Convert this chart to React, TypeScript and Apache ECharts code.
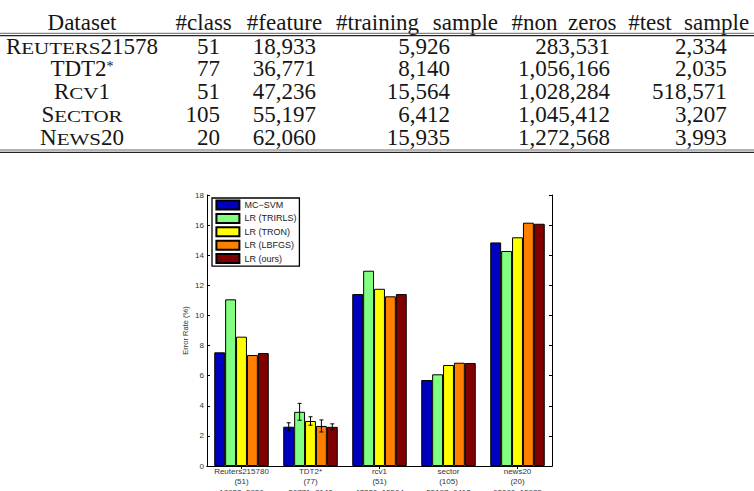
import { useEffect, useRef } from "react";
import * as echarts from "echarts";

// ---- table data ----
const tableHeaders = ["Dataset", "#class", "#feature", "#training sample", "#non zeros", "#test sample"];
const datasetNames = ["Reuters21578", "TDT2*", "Rcv1", "Sector", "News20"];
const classCounts = [51, 77, 51, 105, 20];
const featureCounts = [18933, 36771, 47236, 55197, 62060];
const trainingCounts = [5926, 8140, 15564, 6412, 15935];
const nonZeroCounts = [283531, 1056166, 1028284, 1045412, 1272568];
const testCounts = [2334, 2035, 518571, 3207, 3993];

// ---- chart data ----
const groupNames = ["Reuters215780", "TDT2*", "rcv1", "sector", "news20"];
const groupClasses = ["(51)", "(77)", "(51)", "(105)", "(20)"];
const groupSizes = ["18933, 5926", "36771, 8140", "47236, 15564", "55197, 6412", "62060, 15935"];

const methodNames = ["MC\u2212SVM", "LR (TRIRLS)", "LR (TRON)", "LR (LBFGS)", "LR (ours)"];
const errMcSvm = [7.55, 2.61, 11.42, 5.71, 14.85];
const errTrirls = [11.07, 3.6, 12.97, 6.09, 14.28];
const errTron = [8.59, 2.99, 11.77, 6.71, 15.19];
const errLbfgs = [7.37, 2.66, 11.27, 6.86, 16.16];
const errOurs = [7.5, 2.6, 11.42, 6.84, 16.09];

const stdMcSvm = [0, 0.26, 0, 0, 0];
const stdTrirls = [0, 0.56, 0, 0, 0];
const stdTron = [0, 0.28, 0, 0, 0];
const stdLbfgs = [0, 0.4, 0, 0, 0];
const stdOurs = [0, 0.2, 0, 0, 0];

const yTicks = [0, 18, 2]; // min, max, interval

// ---- styling ----
const SERIF = '"Liberation Serif", "Times New Roman", serif';
const SANS = '"Liberation Sans", Arial, Helvetica, sans-serif';
const INK = "#161616";
const CHART_INK = "#333";
const methodColors = ["#0000BF", "#80FF80", "#FFFF00", "#FF8000", "#800000"];
const CATEGORY_GAP = 0.21;

const BIG = 23;
const SMALL = 17.5;
const SC_STRETCH = 1.2;

let measureCtx: CanvasRenderingContext2D | null = null;
function textWidth(text: string, size: number, family: string) {
  if (!measureCtx) measureCtx = document.createElement("canvas").getContext("2d");
  if (!measureCtx) return text.length * size * 0.5;
  measureCtx.font = `${size}px ${family}`;
  return measureCtx.measureText(text).width;
}

// place a text so its caps are centred on capY
function cellY(capY: number, size: number) {
  const baseline = capY + 0.331 * BIG;
  return baseline - 0.34 * size;
}

function kindOf(ch: string) {
  if (/[a-z]/.test(ch)) return "sc";
  if (ch === "*") return "sup";
  return "big";
}

function serifText(text: string, x: number, y: number, size: number, align: string, scaleX = 1) {
  return {
    type: "text",
    x,
    y,
    scaleX,
    style: { text, fontSize: size, fontFamily: SERIF, fill: INK, align, verticalAlign: "middle" },
  };
}

// dataset name typeset in small caps
function smallCapsName(name: string, cx: number, capY: number) {
  const pieces: { kind: string; text: string }[] = [];
  let i = 0;
  while (i < name.length) {
    const k = kindOf(name[i]);
    let j = i;
    while (j < name.length && kindOf(name[j]) === k) j++;
    pieces.push({ kind: k, text: name.slice(i, j) });
    i = j;
  }
  const children: any[] = [];
  let x = 0;
  for (const p of pieces) {
    const size = p.kind === "big" ? BIG : p.kind === "sc" ? SMALL : 14;
    const txt = p.kind === "sc" ? p.text.toUpperCase() : p.text;
    const sx = p.kind === "sc" ? SC_STRETCH : 1;
    let y = cellY(capY, size);
    if (p.kind === "sup") y -= 6;
    children.push(serifText(txt, x, y, size, "left", sx));
    x += textWidth(txt, size, SERIF) * sx;
  }
  return { type: "group", x: cx - x / 2, y: 0, children };
}

// header words are spread to the column's set width
function headerText(text: string, cx: number, width: number, capY: number) {
  const words = text.split(" ");
  const widths = words.map((w) => textWidth(w, BIG, SERIF));
  const natural = widths.reduce((a, b) => a + b, 0);
  const gap = words.length > 1 ? (width - natural) / (words.length - 1) : 0;
  const total = words.length > 1 ? width : natural;
  const children: any[] = [];
  let x = 0;
  words.forEach((w, i) => {
    children.push(serifText(w, x, cellY(capY, BIG), BIG, "left"));
    x += widths[i] + gap;
  });
  return { type: "group", x: cx - total / 2, y: 0, children };
}

function buildTable() {
  const headerCenters = [82, 203.7, 284.5, 417, 564, 688.7];
  const headerWidths = [70, 57, 77, 162, 105, 121];
  const numberRights = [220, 316, 450, 610, 726.7];
  const headerCapY = 22.5;
  const firstRowCapY = 46.5;
  const rowStep = 22.7;
  const columns = [classCounts, featureCounts, trainingCounts, nonZeroCounts, testCounts];
  const els: any[] = [];

  tableHeaders.forEach((h, c) => {
    els.push(headerText(h, headerCenters[c], headerWidths[c], headerCapY));
  });

  datasetNames.forEach((name, r) => {
    const capY = firstRowCapY + r * rowStep;
    els.push(smallCapsName(name, headerCenters[0], capY));
    columns.forEach((col, c) => {
      els.push(serifText(col[r].toLocaleString("en-US"), numberRights[c], cellY(capY, BIG), BIG, "right"));
    });
  });

  const rule = (y: number, w: number, color: string) => ({
    type: "line",
    shape: { x1: 0, y1: y, x2: 754, y2: y },
    style: { stroke: color, lineWidth: w },
  });
  els.push(rule(33.3, 1, "#666"), rule(35.6, 1.4, "#222"));
  els.push(rule(150, 1, "#666"), rule(152.4, 1.4, "#222"));
  return els;
}

function errorBarSeries(k: number, values: number[], stds: number[]) {
  return {
    type: "custom",
    name: methodNames[k] + " std",
    z: 5,
    data: values.map((v, i) => [i, v, stds[i]]),
    renderItem: (_params: any, api: any) => {
      const i = api.value(0);
      const v = api.value(1);
      const s = api.value(2);
      if (!s) return null;
      const band = api.size([1, 0])[0];
      const bw = (band * (1 - CATEGORY_GAP)) / 5;
      const cx = api.coord([i, 0])[0] + (k - 2) * bw;
      const yTop = api.coord([i, v + s])[1];
      const yBot = api.coord([i, v - s])[1];
      const st = { stroke: "#000", lineWidth: 1 };
      return {
        type: "group",
        children: [
          { type: "line", shape: { x1: cx, y1: yTop, x2: cx, y2: yBot }, style: st },
          { type: "line", shape: { x1: cx - 2, y1: yTop, x2: cx + 2, y2: yTop }, style: st },
          { type: "line", shape: { x1: cx - 2, y1: yBot, x2: cx + 2, y2: yBot }, style: st },
        ],
      };
    },
  };
}

function buildOption() {
  const allValues = [errMcSvm, errTrirls, errTron, errLbfgs, errOurs];
  const allStds = [stdMcSvm, stdTrirls, stdTron, stdLbfgs, stdOurs];
  const axisLine = { show: true, lineStyle: { color: "#000", width: 1 } };
  const tick = { show: true, inside: true, length: 3, lineStyle: { color: "#000", width: 1 } };

  const bars = allValues.map((vals, k) => ({
    type: "bar",
    name: methodNames[k],
    data: vals,
    barGap: "0%",
    barCategoryGap: `${CATEGORY_GAP * 100}%`,
    itemStyle: { color: methodColors[k], borderColor: "#000", borderWidth: 1 },
  }));
  const errs = allValues.map((vals, k) => errorBarSeries(k, vals, allStds[k]));

  return {
    animation: false,
    backgroundColor: "#fff",
    textStyle: { fontFamily: SANS },
    grid: { left: 207, top: 195, width: 345, height: 271, containLabel: false, outerBoundsMode: "none" },
    legend: {
      data: methodNames,
      orient: "vertical",
      left: 212,
      top: 198,
      icon: "rect",
      itemWidth: 23,
      itemHeight: 9,
      itemGap: 2.4,
      padding: [1.5, 3, 2, 3.4],
      backgroundColor: "#fff",
      borderColor: "#000",
      borderWidth: 1.3,
      textStyle: { fontSize: 9, color: "#222", fontFamily: SANS, lineHeight: 9 },
    },
    xAxis: [
      {
        type: "category",
        data: groupNames,
        position: "bottom",
        axisLine,
        axisTick: { ...tick, alignWithLabel: true },
        axisLabel: {
          interval: 0,
          margin: 0.5,
          fontSize: 8,
          lineHeight: 10.3,
          color: CHART_INK,
          formatter: (v: string, idx: number) => `${v}\n${groupClasses[idx]}\n${groupSizes[idx]}`,
        },
        splitLine: { show: false },
      },
      {
        type: "category",
        data: groupNames,
        position: "top",
        axisLine,
        axisTick: { ...tick, alignWithLabel: true },
        axisLabel: { show: false },
        splitLine: { show: false },
      },
    ],
    yAxis: [
      {
        type: "value",
        min: yTicks[0],
        max: yTicks[1],
        interval: yTicks[2],
        position: "left",
        name: "Error Rate (%)",
        nameLocation: "middle",
        nameGap: 18,
        nameTextStyle: { fontSize: 7.5, color: CHART_INK },
        axisLine,
        axisTick: tick,
        axisLabel: { fontSize: 8, margin: 3, color: CHART_INK },
        splitLine: { show: false },
      },
      {
        type: "value",
        min: yTicks[0],
        max: yTicks[1],
        interval: yTicks[2],
        position: "right",
        axisLine,
        axisTick: tick,
        axisLabel: { show: false },
        splitLine: { show: false },
      },
    ],
    series: [...bars, ...errs],
    graphic: buildTable(),
  };
}

export default function App() {
  const ref = useRef<HTMLDivElement>(null);
  useEffect(() => {
    if (!ref.current) return;
    const chart = echarts.init(ref.current, null, { renderer: "svg" });
    chart.setOption(buildOption() as any);
    return () => chart.dispose();
  }, []);
  return (
    <div
      ref={ref}
      style={{ position: "fixed", left: 0, top: 0, width: 754, height: 491, background: "#fff" }}
    />
  );
}
